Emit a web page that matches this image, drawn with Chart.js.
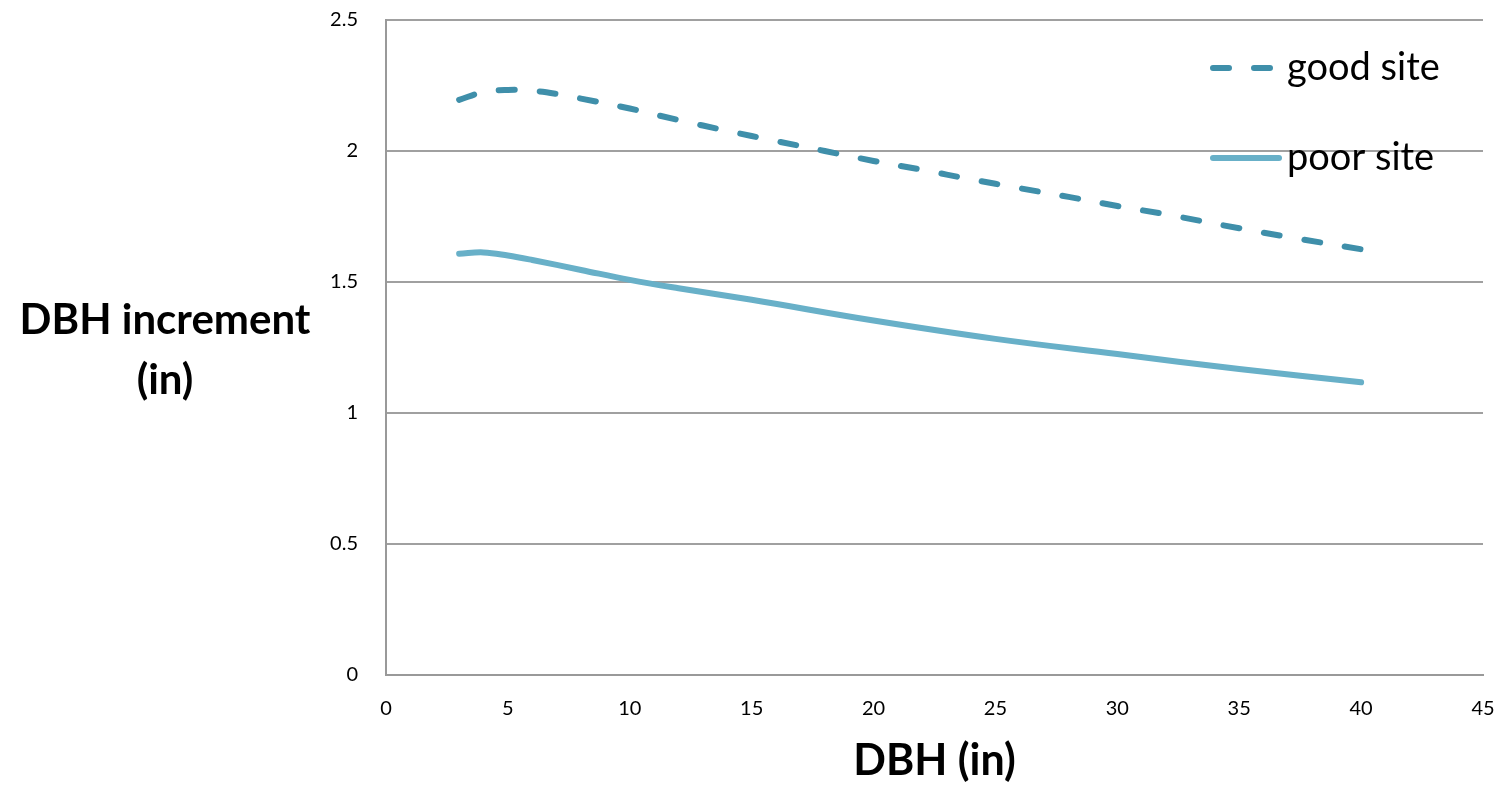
<!DOCTYPE html>
<html>
<head>
<meta charset="utf-8">
<script src="https://cdn.jsdelivr.net/npm/chart.js@4/dist/chart.umd.min.js"></script>
<style>
html,body{margin:0;padding:0;background:#fff;}
#wrap{position:relative;width:1505px;height:787px;}
</style>
</head>
<body>
<div id="wrap"><canvas id="c" width="1505" height="787"></canvas></div>
<script>
const goodDbh   = [3, 4, 5, 6, 7, 8, 10, 12, 14, 16, 18, 20, 22, 24, 26, 28, 30, 32, 35, 37, 40];
const goodInc   = [2.195, 2.225, 2.233, 2.23, 2.218, 2.2, 2.162, 2.118, 2.077, 2.038, 2.0, 1.962, 1.928, 1.892, 1.858, 1.825, 1.79, 1.758, 1.705, 1.672, 1.625];
const poorDbh   = [3, 4, 5, 6, 8, 10, 12, 15, 20, 25, 30, 35, 40];
const poorInc   = [1.608, 1.613, 1.601, 1.584, 1.546, 1.508, 1.476, 1.432, 1.353, 1.283, 1.225, 1.168, 1.117];
const seriesNames = ['good site', 'poor site'];
const xTitle = 'DBH (in)';
const yTitleLines = ['DBH increment', '(in)'];

const FONT = 'Lato, "Open Sans", sans-serif';
const goodColor = '#3F8FAA';
const poorColor = '#68B0C8';

const toPts = (xs, ys) => xs.map((x, i) => ({x: x, y: ys[i]}));

const overlay = {
  id: 'overlay',
  afterDatasetsDraw(chart) {
    const ctx = chart.ctx;
    ctx.save();
    ctx.fillStyle = '#000';
    ctx.font = 'bold 42px ' + FONT;
    ctx.textAlign = 'center';
    ctx.textBaseline = 'middle';
    ctx.fillText(yTitleLines[0], 165, 320);
    ctx.fillText(yTitleLines[1], 165, 380);
    const items = [
      {name: seriesNames[0], ds: chart.data.datasets[0], y: 68, x1: 1213, x2: 1271},
      {name: seriesNames[1], ds: chart.data.datasets[1], y: 158, x1: 1213, x2: 1279}
    ];
    items.forEach(it => {
      ctx.beginPath();
      ctx.strokeStyle = it.ds.borderColor;
      ctx.lineWidth = it.ds.borderWidth;
      ctx.lineCap = 'round';
      ctx.setLineDash(it.ds.borderDash || []);
      ctx.moveTo(it.x1, it.y);
      ctx.lineTo(it.x2, it.y);
      ctx.stroke();
      ctx.setLineDash([]);
      ctx.fillStyle = '#000';
      ctx.font = '38px ' + FONT;
      ctx.textAlign = 'left';
      ctx.textBaseline = 'middle';
      ctx.fillText(it.name, 1287, it.y);
    });
    ctx.restore();
  }
};

new Chart(document.getElementById('c'), {
  type: 'line',
  data: {
    datasets: [
      {
        label: seriesNames[0],
        data: toPts(goodDbh, goodInc),
        borderColor: goodColor,
        borderWidth: 6,
        borderDash: [16, 25],
        borderCapStyle: 'round',
        pointRadius: 0,
        fill: false,
        tension: 0.4
      },
      {
        label: seriesNames[1],
        data: toPts(poorDbh, poorInc),
        borderColor: poorColor,
        borderWidth: 6,
        borderCapStyle: 'round',
        pointRadius: 0,
        fill: false,
        tension: 0.4
      }
    ]
  },
  options: {
    responsive: false,
    animation: false,
    devicePixelRatio: 1,
    layout: {padding: {top: 0, right: 22, left: 0, bottom: 0}},
    plugins: {legend: {display: false}, tooltip: {enabled: false}},
    scales: {
      x: {
        type: 'linear',
        min: 0, max: 45,
        ticks: {stepSize: 5, color: '#000', font: {family: FONT, size: 20}, padding: 6},
        grid: {display: true, color: 'rgba(0,0,0,0)', drawTicks: true, tickLength: 16, tickColor: 'rgba(0,0,0,0)'},
        border: {display: true, color: '#999', width: 2},
        title: {display: true, text: xTitle, color: '#000', font: {family: FONT, size: 43, weight: 'bold'}, padding: {top: 22, bottom: 0}},
        afterFit(s) { s.height = 112; }
      },
      y: {
        min: 0, max: 2.5,
        ticks: {stepSize: 0.5, color: '#000', font: {family: FONT, size: 20}, padding: 8,
                callback: v => String(Math.round(v * 10) / 10)},
        grid: {color: '#a0a0a0', lineWidth: 2, drawTicks: true, tickLength: 20, tickColor: 'rgba(0,0,0,0)'},
        border: {display: true, color: '#999', width: 2},
        afterFit(s) { s.width = 386; }
      }
    }
  },
  plugins: [overlay]
});
</script>
</body>
</html>
